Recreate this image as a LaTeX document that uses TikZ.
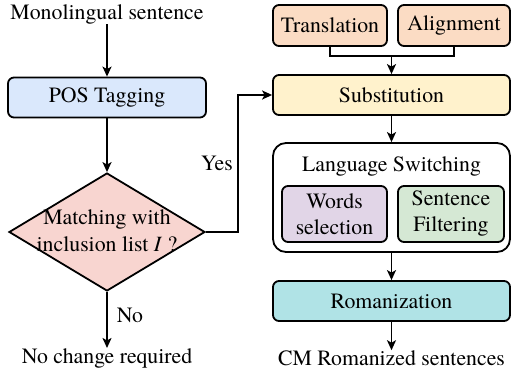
\documentclass[tikz,border=0pt]{standalone}
\usepackage{fontspec}
\setmainfont{texgyretermes}[Extension=.otf, UprightFont=*-regular, ItalicFont=*-italic, BoldFont=*-bold]
\usetikzlibrary{shapes.geometric,arrows.meta,calc}
\definecolor{posblue}{HTML}{DAE8FC}
\definecolor{diapink}{HTML}{F8D5D0}
\definecolor{peach}{HTML}{FBDCC4}
\definecolor{subyel}{HTML}{FFF2CC}
\definecolor{purp}{HTML}{E1D5E7}
\definecolor{grn}{HTML}{D5E8D4}
\definecolor{cyanr}{HTML}{B0E3E6}
\tikzset{
  txt/.style={font=\fontsize{21.8}{26}\selectfont, inner sep=0pt, align=center},
  box/.style={txt, draw, line width=1.8pt, rounded corners=6pt},
  arr/.style={line width=1.8pt, -{Stealth[length=10pt,width=9pt,inset=2.5pt]}},
  ln/.style={line width=1.8pt},
}
\begin{document}
\begin{tikzpicture}[x=1pt,y=-1pt]
\useasboundingbox (0,0) rectangle (513,374);
% left column
\node[txt] (mono) at (107,14) {Monolingual sentence};
\node[box, fill=posblue, minimum width=198pt, minimum height=40pt] (pos) at (107,97.5) {POS Tagging};
\node[draw, line width=1.8pt, fill=diapink, shape=diamond, inner sep=0pt,
      minimum width=196pt, minimum height=118pt] (dia) at (107,232) {};
\node[txt, font=\fontsize{21.8}{27}\selectfont] (diat) at (107,231) {Matching with\\inclusion list \textit{I} ?};
\node[txt] (noch) at (107,358) {No change required};
\node[txt] (no) at (130,315) {No};
\node[txt] (yes) at (217,163) {Yes};
\coordinate (yc) at (238,232);
\draw[arr] (mono) -- (pos);
\draw[arr] (pos) -- (dia.north);
\draw[arr] (dia.south) -- (noch);
% right column
\node[box, fill=peach, minimum width=114pt, minimum height=41pt] (tr) at (330,25.5) {Translation};
\node[box, fill=peach, minimum width=112pt, minimum height=41pt] (al) at (454,25.5) {Alignment};
\node[box, fill=subyel, minimum width=237pt, minimum height=40pt] (sub) at (391.5,95) {Substitution};
\node[draw, line width=1.8pt, rounded corners=13pt, fill=white, minimum width=237pt, minimum height=109pt, inner sep=0pt] (ls) at (391.5,197.5) {};
\node[txt] (lst) at (391.5,166) {Language Switching};
\node[box, fill=purp, minimum width=105pt, minimum height=56pt] (ws) at (334.5,214) {Words\\selection};
\node[box, fill=grn, minimum width=106pt, minimum height=56pt] (sf) at (451,214) {Sentence\\Filtering};
\node[box, fill=cyanr, minimum width=237pt, minimum height=40pt] (rom) at (391.5,301) {Romanization};
\node[txt] (cm) at (391.5,358) {CM Romanized sentences};
\coordinate (j) at ($(sub.north)+(0,-18)$);
\draw[ln] (tr.south) |- (j) -| (al.south);
\draw[arr] (j) -- (sub.north);
\draw[arr] (sub.south) -- (ls.north);
\draw[arr] (ls.south) -- (rom.north);
\draw[arr] (rom.south) -- (cm.north);
\draw[arr] (dia.east) -- (yc) |- (sub.west);
\end{tikzpicture}
\end{document}
